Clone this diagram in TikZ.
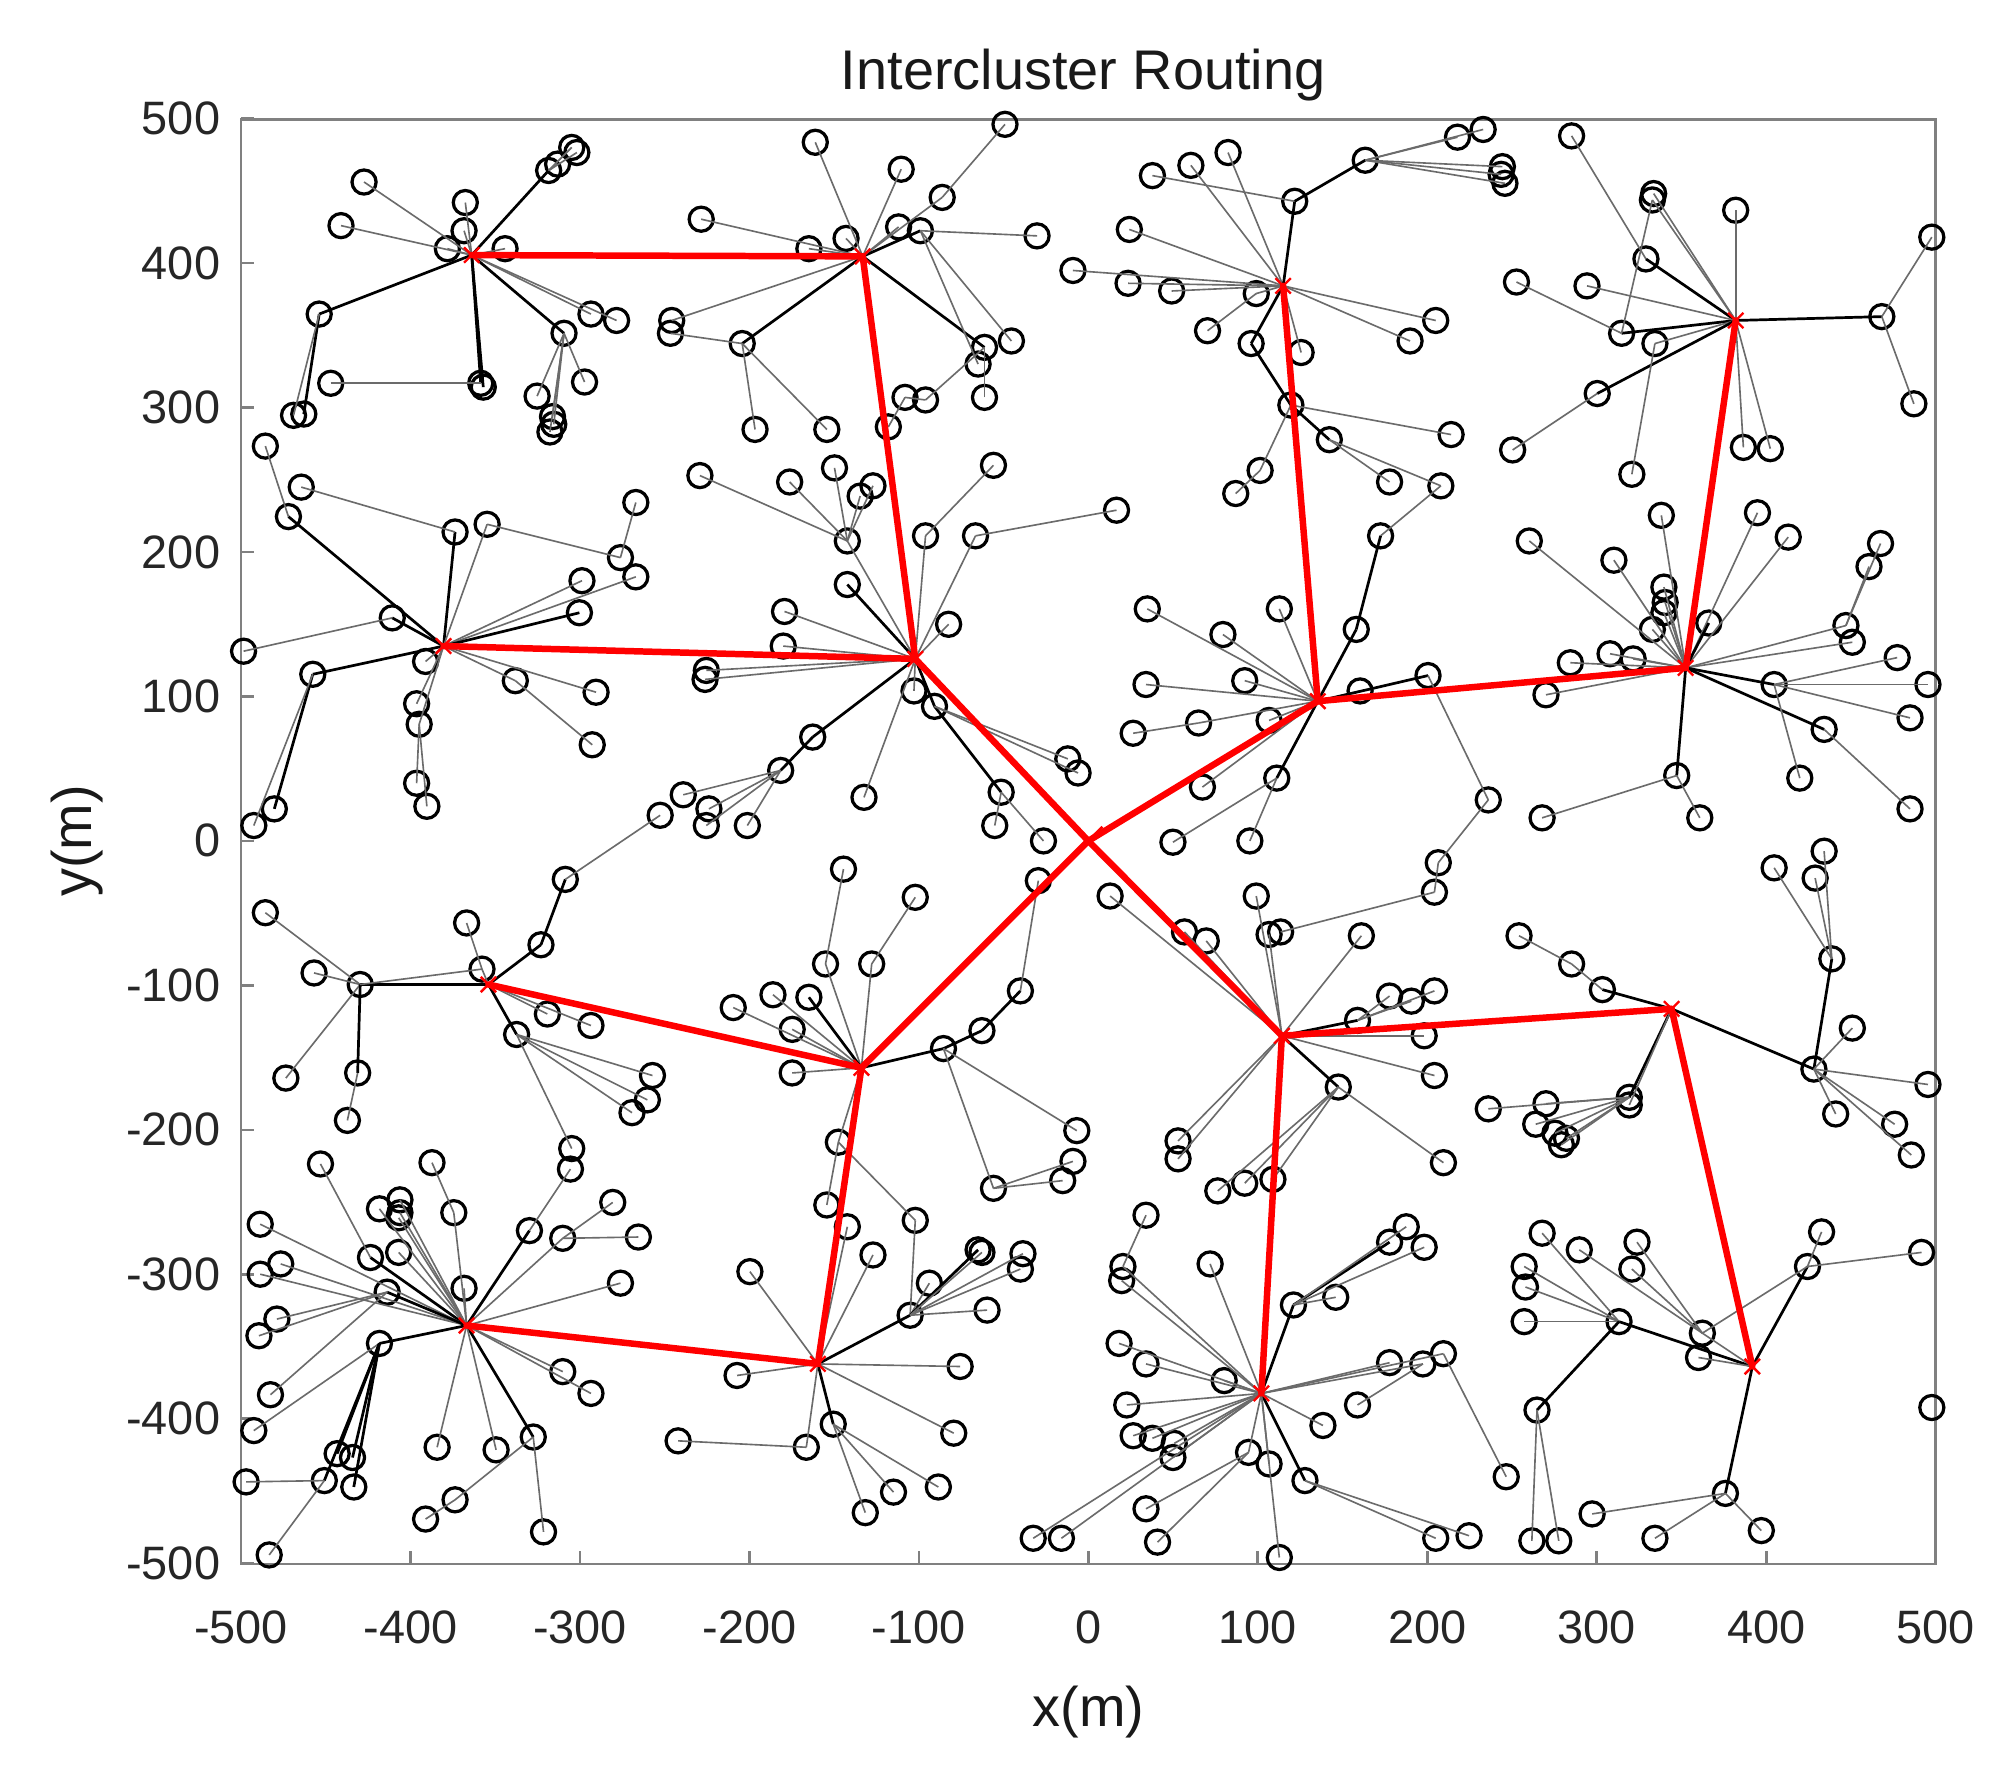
\documentclass[tikz,border=0pt]{standalone}
\usepackage{fontspec}
\setmainfont{Liberation Sans}
\begin{document}
\def\heads{C1/368/199,C2/673/200,C3/714/514,C4/346/504,C5/1001/223,C6/1028/547,C7/1354/250,C8/1315/521,C9/381/768,C10/672/833,C11/1000/808,C12/1304/787,C13/364/1034,C14/638/1064,C15/984/1087,C16/1367/1066,S/849/656}
\def\members{a1/284/142/C1/lg,a2/266/176/C1/lg,a3/363/158/C1/lg,a4/362/180/C1/lg,a5/349/194/C1/lg,a6/394/194/C1/lg,a7/428/133/C1/lk,a8/435/128/a7/lg,a9/446/115/a7/lg,a10/450/119/a7/lg,a11/249/245/C1/lk,a12/237/323/a11/lk,a13/229/324/a11/lg,a15/375/299/C1/lk,a16/377/302/C1/lk,a14/258/299/a15/lg,a17/440/260/C1/lk,a18/461/245/C1/lg,a19/481/250/C1/lg,a20/456/298/a17/lg,a21/419/309/a17/lg,a22/431/325/a17/lg,a23/429/337/a17/lg,a24/432/331/a17/lg,
b3/225/403/C4/lk,b1/207/348/b3/lg,b5/355/415/C4/lk,b2/235/380/b5/lg,b6/380/409/C4/lg,b7/484/435/b6/lg,b8/496/392/b7/lg,b9/496/450/C4/lg,b10/454/453/C4/lg,c2/306/482/C4/lk,c1/190/508/c2/lg,c3/452/478/C4/lk,c4/244/526/C4/lk,c5a/214/631/c4/lk,c5b/198/644/c4/lg,c6/332/516/C4/lg,c7a/325/549/C4/lg,c7b/327/565/C4/lg,c8a/325/611/c7b/lg,c8b/333/629/c7b/lg,c9/402/531/C4/lg,c10/465/540/C4/lg,c11/462/581/c9/lg,
d3/281/768/C9/lk,d1/207/712/d3/lg,d2/245/759/d3/lg,d4/376/756/C9/lg,d5/364/720/d4/lg,d6/422/737/C9/lk,d7/441/686/d6/lk,d8/515/636/d7/lg,d9/427/791/C9/lg,d10/461/800/C9/lg,d11/403/807/C9/lk,d12/223/841/d3/lg,d13/279/837/d3/lk,d14/271/874/d13/lg,d15/509/839/d11/lg,d16/505/858/d11/lg,d17/493/868/d11/lg,d18/446/896/d11/lg,
e8/289/981/C13/lk,e1/250/908/e8/lg,e2/296/943/C13/lg,e3a/312/936/C13/lg,e3b/312/946/C13/lg,e3c/311/950/C13/lg,e5/354/946/C13/lg,e4/337/907/e5/lg,e6/203/955/C13/lg,e7a/219/986/C13/lg,e7b/203/994/C13/lg,e9/311/977/C13/lg,e10/302/1008/C13/lk,e11a/216/1029/e10/lg,e11b/202/1042/e10/lg,e12/296/1048/C13/lk,e13/211/1088/e10/lg,e14/198/1116/e12/lg,e15/362/1005/C13/lg,e16/413/960/C13/lk,e17/445/912/e16/lg,e18/439/966/C13/lg,e19/478/938/e18/lg,e20/498/965/e18/lg,e21/484/1001/C13/lg,e22a/439/1070/C13/lg,e22b/461/1087/C13/lg,e23/416/1121/C13/lk,e24/424/1195/e23/lg,e25a/355/1170/e23/lg,e25b/332/1185/e25a/lg,e26/341/1129/C13/lg,e27/387/1131/C13/lg,e28a/275/1137/e12/lk,e28b/263/1134/e12/lk,e29/253/1155/e12/lk,e30/276/1160/e12/lk,e31/192/1156/e29/lg,e32/210/1213/e29/lg,
f1/636/111/C2/lg,f2/703/132/C2/lg,f4/735/154/C2/lg,f3/784/97/f4/lg,f5/718/180/C2/lk,f6/701/177/C2/lg,f7/809/184/f5/lg,f9/547/171/C2/lg,f10/631/194/C2/lg,f11/660/186/C2/lg,f12/579/268/C2/lk,f12a/524/250/C2/lg,f12b/523/260/f12/lg,f13/589/335/f12/lg,f14/645/335/f12/lg,f15/768/271/C2/lk,f16/789/266/f5/lg,f17/763/284/f5/lg,f18/768/310/f15/lg,f19a/722/312/f15/lg,f19b/706/310/f19a/lg,f20/693/333/f19b/lg,
g5/661/422/C3/lg,g1/546/371/g5/lg,g2/616/376/g5/lg,g3/651/365/g5/lg,g4a/671/387/g5/lg,g4b/681/379/g5/lg,g6/722/418/C3/lg,g7/775/363/g6/lg,g8/761/418/C3/lg,g9/871/398/g8/lg,g10/661/456/C3/lk,n1/612/477/C3/lg,n2/611/504/C3/lg,n3a/551/523/C3/lg,n3b/550/530/C3/lg,n4/740/487/C3/lg,n5a/713/539/C3/lg,n5b/729/551/C3/lk,n6/634/575/C3/lk,n7/609/601/n6/lk,n8/533/620/n7/lg,n9a/553/631/n7/lg,n9b/551/644/n7/lg,n10/583/644/n7/lg,n12/674/622/C3/lg,n13/781/618/n5b/lk,n14/776/644/n13/lg,n15/814/656/n13/lg,n16a/833/592/n5b/lg,n16b/841/603/n5b/lg,
h1/958/119/C5/lg,h2/929/129/C5/lg,h5/1010/157/C5/lk,h3/899/137/h5/lg,h6/1065/125/h5/lk,h7a/1137/107/h6/lg,h7b/1157/101/h6/lg,h8a/1172/130/h6/lg,h8b/1174/143/h6/lg,h8c/1171/136/h6/lg,h9/881/179/C5/lg,h10/880/221/C5/lg,f8/837/211/C5/lg,h11/914/227/C5/lg,h12/980/229/C5/lg,h13/942/258/h12/lg,h14/976/268/C5/lk,h15/1015/275/C5/lg,h16/1120/250/C5/lg,h17/1100/266/C5/lg,h18/1007/316/h14/lk,h19/1037/343/h18/lk,h20/1132/339/h18/lg,h21/1084/376/h19/lg,h22/1124/379/h19/lg,h23/1077/418/h22/lg,h24/983/367/h18/lg,h24b/964/385/h24/lg,
i4/1284/202/C7/lk,i1/1226/106/i4/lg,i3a/1290/151/C7/lg,i3b/1289/156/C7/lg,i5/1354/164/C7/lg,i7/1468/247/C7/lk,i6/1507/185/i7/lg,i8/1493/315/i7/lg,i11/1265/260/C7/lk,i9/1183/220/i11/lg,i10/1238/223/C7/lg,i12/1291/268/C7/lg,i13/1246/307/C7/lk,i14/1180/351/i13/lg,i15/1273/370/i12/lg,i16a/1360/349/C7/lg,i16b/1381/350/C7/lg,
j1/1296/402/C8/lg,j2/1371/400/C8/lg,j3/1395/419/C8/lg,j4/1193/422/C8/lg,j5/1259/437/C8/lg,j6/1298/458/C8/lg,k0a/1299/470/C8/lg,k0b/1298/478/C8/lg,k0c/1289/491/C8/lg,k0d/1333/486/C8/lk,k2a/1440/488/C8/lg,k2b/1445/501/C8/lg,j7a/1467/424/k2a/lg,j7b/1458/442/k2a/lg,k1a/1225/517/C8/lg,k1b/1256/510/C8/lg,k1c/1274/514/C8/lg,k1d/1206/542/C8/lg,k4/1384/534/C8/lk,k3/1480/513/k4/lg,k5/1504/534/k4/lg,k6/1490/560/k4/lg,k7/1423/569/C8/lk,k8/1490/631/k7/lg,k9/1404/607/k4/lg,k10/1308/605/C8/lk,k11/1203/638/k10/lg,k12/1326/638/k10/lg,
q1/895/475/C6/lg,q2/998/475/C6/lg,q3/1058/491/C6/lk,q4/954/495/C6/lg,q5/971/531/C6/lg,q6/894/534/C6/lg,q8/935/564/C6/lg,q7/884/572/q8/lg,q9/990/562/C6/lg,q10/1061/539/C6/lg,q11/1114/527/C6/lk,q12/1161/624/q11/lg,q13/1122/673/q12/lg,q14/1119/696/q13/lg,q15/999/727/q14/lg,q16/996/607/C6/lk,q17/915/657/q16/lg,q18/975/656/q16/lg,q19/938/614/C6/lg,
r1/866/699/C11/lg,r2/980/699/C11/lg,r3/924/727/C11/lg,r4/941/734/C11/lg,r5/990/729/C11/lg,r6/1062/730/C11/lg,r8/1059/796/C11/lk,r7a/1084/777/r8/lg,r7b/1101/781/r8/lg,r7c/1119/773/r8/lg,r9/1111/808/C11/lg,r10/1119/839/C11/lg,r11/1044/848/C11/lk,s3/1126/907/r11/lg,s5a/919/890/C11/lg,s5b/919/904/C11/lg,s6a/950/929/r11/lg,s6b/971/923/r11/lg,s6c/993/920/r11/lg,
o12/736/818/C10/lk,o11/766/804/o12/lk,o10/796/773/o11/lk,o9/810/687/o10/lg,o3/644/752/C10/lg,o1/658/678/o3/lg,o4/680/752/C10/lg,o2/714/700/o4/lg,o5/572/786/C10/lg,o6/603/776/C10/lg,o7/631/778/C10/lk,o8/618/803/C10/lg,o13/618/837/C10/lg,
x1/840/882/o12/lg,x4/775/927/o12/lg,x2/837/906/x4/lg,x3/829/921/x4/lg,x6/654/891/C10/lg,x7/645/940/x6/lg,x8/661/957/C14/lg,
p4/710/1026/C14/lk,x5/714/952/p4/lg,p1/585/992/C14/lg,p2/681/979/C14/lg,p3/725/1001/p4/lg,p5a/763/975/p4/lk,p5b/766/977/p4/lg,p6a/798/978/p4/lg,p6b/796/990/p4/lg,p7/770/1022/p4/lg,p8/575/1073/C14/lg,p9/749/1066/C14/lg,p10/744/1118/C14/lg,p11/650/1111/C14/lk,p12/732/1160/p11/lg,p13/697/1164/p11/lg,p14/675/1180/p11/lg,p15/629/1129/C14/lg,p16/529/1124/p15/lg,p17a/806/1200/C15/lg,p17b/828/1200/C15/lg,
s8a/876/988/C15/lg,s7/894/948/s8a/lg,s8b/875/999/C15/lg,s9/944/986/C15/lg,s10/873/1048/C15/lg,s11/894/1064/C15/lg,s12/955/1077/C15/lg,s13/1009/1018/C15/lk,s14/1042/1012/s13/lg,s15a/1084/969/s13/lk,s15b/1097/957/s13/lg,s15c/1111/973/s13/lg,s16/1084/1063/C15/lg,s17a/1110/1064/C15/lg,s17b/1126/1056/C15/lg,s18/1059/1096/s17a/lg,s19/1032/1112/C15/lg,s20/1175/1152/s17b/lg,s21/879/1096/C15/lg,s22a/884/1120/C15/lg,s22b/899/1122/C15/lg,s22c/916/1126/C15/lg,s22d/915/1137/C15/lg,s23/974/1133/C15/lg,s24/990/1142/C15/lg,s25/1018/1155/C15/lk,s26a/1120/1200/s25/lg,s26b/1146/1198/s25/lg,s27/894/1177/s23/lg,s28/903/1203/s23/lg,s29/998/1215/C15/lg,
l3/1250/772/C12/lk,l2/1226/752/l3/lg,l1/1185/730/l2/lg,l8/1415/834/C12/lk,l7/1429/748/l8/lk,l4/1423/664/l7/lg,l5/1416/685/l7/lg,l6/1384/677/l7/lg,l9/1445/802/l8/lg,l10/1504/846/l8/lg,l11/1432/869/l8/lg,l12/1478/877/l8/lg,l13/1491/901/l8/lg,t1/1271/856/C12/lk,t1b/1271/862/C12/lg,t2/1206/861/t1/lg,t3/1198/877/t1/lg,t4/1213/884/t1/lg,t5/1222/888/t1/lg,t6/1218/893/t1/lg,s2/1161/865/t1/lg,
m6/1263/1031/C16/lk,m7/1328/1040/C16/lg,m1/1203/962/m6/lg,m2/1232/975/m7/lg,m3a/1277/969/m7/lg,m3b/1273/990/m7/lg,m4a/1189/988/m6/lg,m4b/1190/1004/m6/lg,m5/1189/1031/m6/lg,m8/1325/1059/C16/lg,m10/1410/988/C16/lk,m9/1421/961/m10/lg,m11/1499/977/m10/lg,m12/1507/1098/m12/lg,m13/1199/1100/m6/lk,m14a/1195/1202/m13/lg,m14b/1216/1202/m13/lg,m15/1346/1165/C16/lk,m16/1242/1181/m15/lg,m17/1291/1200/m15/lg,m18/1374/1194/m15/lg}
\begin{tikzpicture}[x=0.025cm,y=-0.025cm,
  pt/.style={circle,draw=black,line width=1.8pt,minimum size=0.47cm,inner sep=0pt},
  hd/.style={inner sep=0pt,minimum size=0pt},
  lg/.style={draw=black!58,line width=0.9pt},
  lk/.style={draw=black,line width=1.5pt},
  rl/.style={draw=red,line width=3.6pt,line cap=round,line join=round},
  axis/.style={draw=black!50,line width=1.5pt},
  tick/.style={font=\fontsize{26}{26}\selectfont,text=black!85,inner sep=0pt},
  big/.style={font=\fontsize{31}{31}\selectfont,text=black!90,inner sep=0pt}]
\useasboundingbox (0,0) rectangle (1568,1381);
\fill[white] (0,0) rectangle (1568,1381);
% axes box and ticks
\draw[axis] (188,93) rectangle (1510,1220);
\foreach \v in {-500,-400,-300,-200,-100,0,100,200,300,400,500}{
  \draw[axis] ({849+\v*1.322},1220) -- ++(0,-10);
  \draw[axis] (188,{656-\v*1.127}) -- ++(10,0);
  \node[tick,anchor=base] (xt\v) at ({849+\v*1.322},1282) {\v};
  \node[tick,anchor=base east] (yt\v) at (172,{656-\v*1.127+12.5}) {\v};
}
\node[big,anchor=base] (title) at (845,70) {Intercluster Routing};
\node[big,anchor=base] (xlab) at (849,1347) {x(m)};
\node[big,rotate=90] (ylab) at (60,656) {y(m)};
% cluster heads
\foreach \n/\x/\y in \heads { \node[hd] (\n) at (\x,\y) {}; }
% member nodes
\foreach \n/\x/\y/\p/\s in \members { \node[pt] (\n) at (\x,\y) {}; }
% member links
\foreach \n/\x/\y/\p/\s in \members { \draw[\s] (\n.center) -- (\p.center); }
\draw[lk] (h23.center) -- (q3.center);
\draw[lg] (x6.center) -- (x5.center);
\draw[lg] (m7.center) -- (m10.center);
\draw[lg] (i3b.center) -- (i11.center);
\draw[lg] (d3.center) -- (d4.center);
% intercluster routing
\foreach \a/\b in {C1/C2,C2/C3,C4/C3,C3/S,C5/C6,C6/S,C7/C8,C8/C6,C9/C10,C10/S,C14/C10,C13/C14,C11/S,C15/C11,C12/C11,C16/C12}{
  \draw[rl] (\a.center) -- (\b.center);
}
\foreach \n/\x/\y in \heads {
  \draw[red,line width=1.3pt] ([shift={(-6,-6)}]\n.center) -- ([shift={(6,6)}]\n.center);
  \draw[red,line width=1.3pt] ([shift={(-6,6)}]\n.center) -- ([shift={(6,-6)}]\n.center);
}
\draw[red,line width=1.5pt] ([shift={(-11,-11)}]S.center) -- ([shift={(11,11)}]S.center);
\draw[red,line width=1.5pt] ([shift={(-11,11)}]S.center) -- ([shift={(11,-11)}]S.center);
\end{tikzpicture}
\end{document}
